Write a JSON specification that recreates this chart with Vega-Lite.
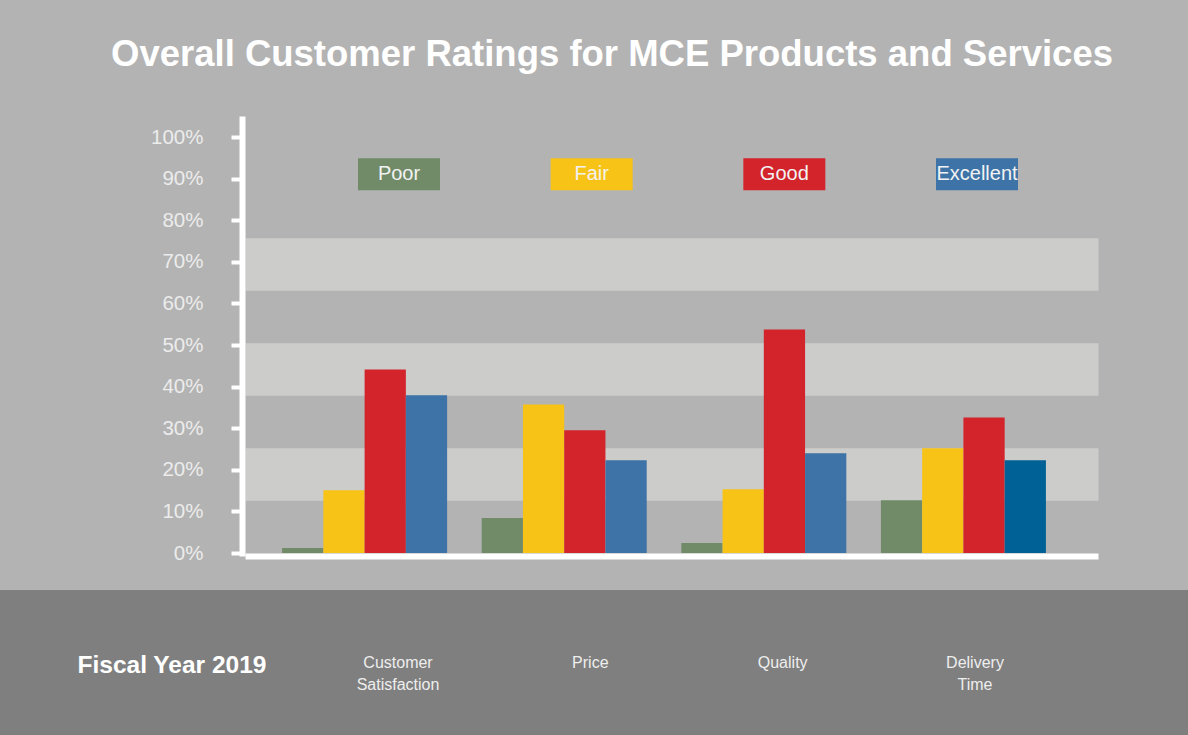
{
  "$schema": "https://vega.github.io/schema/vega-lite/v6.json",
  "width": 1188,
  "height": 440,
  "autosize": {"type": "none"},
  "padding": {"top": 116, "left": 0, "right": 0, "bottom": 179},
  "background": "#b3b3b3",
  "config": {"view": {"stroke": null}},
  "title": {
    "text": "Overall Customer Ratings for MCE Products and Services",
    "color": "#ffffff",
    "font": "Liberation Sans",
    "fontSize": 36.5,
    "fontWeight": "bold",
    "anchor": "middle",
    "frame": "group",
    "dx": 18,
    "offset": 14,
    "baseline": "alphabetic"
  },
  "datasets": {
    "ratings": [
      {"category": "Customer Satisfaction", "rating": "Poor", "value": 1.2},
      {"category": "Customer Satisfaction", "rating": "Fair", "value": 15.1},
      {"category": "Customer Satisfaction", "rating": "Good", "value": 44.1},
      {"category": "Customer Satisfaction", "rating": "Excellent", "value": 37.9},
      {"category": "Price", "rating": "Poor", "value": 8.4},
      {"category": "Price", "rating": "Fair", "value": 35.7},
      {"category": "Price", "rating": "Good", "value": 29.5},
      {"category": "Price", "rating": "Excellent", "value": 22.3},
      {"category": "Quality", "rating": "Poor", "value": 2.4},
      {"category": "Quality", "rating": "Fair", "value": 15.3},
      {"category": "Quality", "rating": "Good", "value": 53.7},
      {"category": "Quality", "rating": "Excellent", "value": 24.0},
      {"category": "Delivery Time", "rating": "Poor", "value": 12.7},
      {"category": "Delivery Time", "rating": "Fair", "value": 25.2},
      {"category": "Delivery Time", "rating": "Good", "value": 32.6},
      {"category": "Delivery Time", "rating": "Excellent", "value": 22.3}
    ],
    "legendItems": [
      {"rating": "Poor"}, {"rating": "Fair"}, {"rating": "Good"}, {"rating": "Excellent"}
    ],
    "categories": [
      {"category": "Customer Satisfaction"}, {"category": "Price"}, {"category": "Quality"}, {"category": "Delivery Time"}
    ],
    "frame": [{"part": "footer"}]
  },
  "layer": [
    {
      "data": {"name": "frame"},
      "mark": {"type": "rect", "color": "#7f7f7f"},
      "encoding": {
        "y": {
          "datum": -8.89,
          "type": "quantitative",
          "scale": {"domain": [-0.72, 105.05], "nice": false, "zero": false},
          "axis": {
            "orient": "left",
            "offset": -242,
            "values": [0, 10, 20, 30, 40, 50, 60, 70, 80, 90, 100],
            "labelExpr": "datum.value + '%'",
            "grid": false,
            "domain": true,
            "domainColor": "#ffffff",
            "domainWidth": 6,
            "ticks": true,
            "tickColor": "#ffffff",
            "tickWidth": 4,
            "tickSize": 11,
            "labelPadding": 28,
            "labelFont": "Liberation Sans",
            "labelFontSize": 20.5,
            "labelColor": "#ececec",
            "title": null
          }
        },
        "y2": {"datum": -44}
      }
    },
    {
      "data": {"name": "ratings"},
      "mark": {"type": "bar"},
      "encoding": {
        "x": {
          "field": "category",
          "type": "nominal",
          "sort": ["Customer Satisfaction", "Price", "Quality", "Delivery Time"],
          "scale": {"range": [245, 1098], "paddingInner": 0.1733, "paddingOuter": 0.2234, "align": 0.416},
          "axis": {
            "orient": "bottom",
            "zindex": 1,
            "domain": true,
            "domainColor": "#ffffff",
            "domainWidth": 6,
            "ticks": false,
            "labels": false,
            "grid": false,
            "title": "Fiscal Year 2019",
            "titleX": 77,
            "titleY": 109,
            "titleAlign": "left",
            "titleBaseline": "middle",
            "titleAngle": 0,
            "titleFont": "Liberation Sans",
            "titleFontSize": 24.5,
            "titleFontWeight": "bold",
            "titleColor": "#ffffff"
          }
        },
        "xOffset": {
          "field": "rating",
          "type": "nominal",
          "sort": ["Poor", "Fair", "Good", "Excellent"],
          "scale": {"paddingInner": 0, "paddingOuter": 0}
        },
        "y": {
          "field": "value",
          "type": "quantitative",
          "stack": null,
          "scale": {"domain": [-0.72, 105.05], "nice": false, "zero": false},
          "axis": {
            "orient": "left",
            "values": [18.9, 44.15, 69.4],
            "grid": true,
            "gridColor": "#cccccb",
            "gridWidth": 52.4,
            "gridOpacity": 1,
            "domain": false,
            "ticks": false,
            "labels": false,
            "title": null
          }
        },
        "color": {
          "field": "rating",
          "type": "nominal",
          "scale": {"domain": ["Poor", "Fair", "Good", "Excellent"], "range": ["#718b68", "#f8c317", "#d3232b", "#3d73a6"]},
          "legend": null,
          "condition": {"test": "datum.category === 'Delivery Time' && datum.rating === 'Excellent'", "value": "#006196"}
        }
      }
    },
    {
      "data": {"name": "legendItems"},
      "encoding": {
        "x": {
          "field": "rating",
          "type": "nominal",
          "sort": ["Poor", "Fair", "Good", "Excellent"],
          "scale": {"type": "point", "range": [399, 977], "padding": 0},
          "axis": null
        }
      },
      "layer": [
        {
          "mark": {"type": "bar", "width": 82},
          "encoding": {
            "y": {"datum": 94.9, "type": "quantitative", "scale": {"domain": [-0.72, 105.05], "nice": false, "zero": false}, "axis": null},
            "y2": {"datum": 87.2},
            "color": {
              "field": "rating",
              "type": "nominal",
              "scale": {"domain": ["Poor", "Fair", "Good", "Excellent"], "range": ["#718b68", "#f8c317", "#d3232b", "#3d73a6"]},
              "legend": null
            }
          }
        },
        {
          "mark": {"type": "text", "font": "Liberation Sans", "fontSize": 20, "color": "#f2f2f2", "baseline": "middle", "align": "center"},
          "encoding": {
            "y": {"datum": 91.05, "type": "quantitative", "scale": {"domain": [-0.72, 105.05], "nice": false, "zero": false}, "axis": null},
            "text": {"field": "rating"}
          }
        }
      ]
    },
    {
      "data": {"name": "categories"},
      "mark": {"type": "text", "font": "Liberation Sans", "fontSize": 16, "color": "#eeeeee", "lineBreak": " ", "lineHeight": 22, "baseline": "middle", "align": "center"},
      "encoding": {
        "x": {
          "field": "category",
          "type": "nominal",
          "sort": ["Customer Satisfaction", "Price", "Quality", "Delivery Time"],
          "scale": {"type": "point", "range": [398, 975], "padding": 0},
          "axis": null
        },
        "y": {"datum": -26.44, "type": "quantitative", "scale": {"domain": [-0.72, 105.05], "nice": false, "zero": false}, "axis": null},
        "text": {"field": "category"}
      }
    }
  ],
  "resolve": {"scale": {"x": "independent"}, "axis": {"x": "independent", "y": "independent"}}
}
